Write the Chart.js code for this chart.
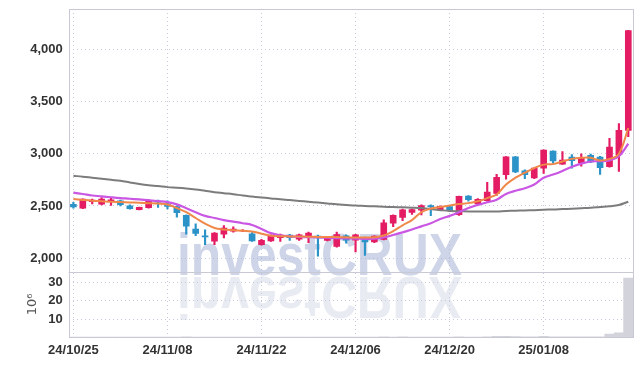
<!DOCTYPE html>
<html>
<head>
<meta charset="utf-8">
<script src="https://cdn.jsdelivr.net/npm/chart.js@4.4.1/dist/chart.umd.min.js"></script>
<style>
  html, body { margin: 0; padding: 0; background: #fff; }
</style>
</head>
<body>
<canvas id="chart" width="642" height="366"></canvas>
<script>
// trading days, 24/10/25 .. 25/01/21
const dates = [
  '24/10/25', '24/10/28', '24/10/29', '24/10/30', '24/10/31', '24/11/01', '24/11/04', '24/11/05', '24/11/06', '24/11/07',
  '24/11/08', '24/11/11', '24/11/12', '24/11/13', '24/11/14', '24/11/15', '24/11/18', '24/11/19', '24/11/20', '24/11/21',
  '24/11/22', '24/11/25', '24/11/26', '24/11/27', '24/11/28', '24/11/29', '24/12/02', '24/12/03', '24/12/04', '24/12/05',
  '24/12/06', '24/12/09', '24/12/10', '24/12/11', '24/12/12', '24/12/13', '24/12/16', '24/12/17', '24/12/18', '24/12/19',
  '24/12/20', '24/12/23', '24/12/24', '24/12/26', '24/12/27', '24/12/30', '25/01/02', '25/01/03', '25/01/06', '25/01/07',
  '25/01/08', '25/01/09', '25/01/10', '25/01/13', '25/01/14', '25/01/15', '25/01/16', '25/01/17', '25/01/20', '25/01/21',
]

const opens = [
  2515, 2478, 2540, 2518, 2545, 2548, 2500, 2465, 2484, 2545,
  2520, 2493, 2410, 2280, 2215, 2164, 2231, 2258, 2262, 2233,
  2130, 2165, 2196, 2222, 2182, 2212, 2212, 2170, 2113, 2215,
  2174, 2180, 2155, 2180, 2336, 2390, 2437, 2460, 2503, 2460,
  2495, 2417, 2595, 2520, 2550, 2621, 2798, 2969, 2835, 2767,
  2862, 3024, 2900, 2968, 2910, 2985, 2967, 2875, 2990, 3221,
]
const highs = [
  2535, 2568, 2565, 2580, 2580, 2555, 2510, 2490, 2555, 2555,
  2548, 2500, 2415, 2329, 2272, 2245, 2312, 2300, 2275, 2245,
  2180, 2225, 2230, 2228, 2230, 2250, 2222, 2200, 2250, 2225,
  2228, 2202, 2215, 2367, 2415, 2470, 2470, 2510, 2510, 2500,
  2500, 2595, 2600, 2570, 2725, 2802, 2972, 2972, 2845, 2865,
  3036, 3028, 3020, 2992, 2998, 2995, 2975, 3147, 3287, 4180,
]
const lows = [
  2480, 2475, 2520, 2510, 2505, 2500, 2470, 2462, 2478, 2485,
  2472, 2392, 2230, 2217, 2130, 2130, 2195, 2250, 2255, 2160,
  2125, 2160, 2160, 2170, 2170, 2148, 2021, 2165, 2105, 2145,
  2060, 2027, 2150, 2175, 2303, 2360, 2418, 2415, 2408, 2455,
  2450, 2410, 2545, 2505, 2545, 2600, 2757, 2818, 2760, 2760,
  2811, 2909, 2898, 2862, 2880, 2915, 2802, 2870, 2830, 3163,
]
const closes = [
  2490, 2565, 2555, 2565, 2558, 2512, 2475, 2488, 2548, 2535,
  2495, 2436, 2307, 2237, 2205, 2240, 2288, 2280, 2265, 2165,
  2172, 2217, 2222, 2197, 2224, 2240, 2195, 2195, 2227, 2172,
  2224, 2155, 2211, 2338, 2411, 2462, 2465, 2503, 2490, 2497,
  2455, 2592, 2560, 2564, 2633, 2773, 2969, 2825, 2800, 2862,
  3033, 2931, 2938, 2932, 2960, 2922, 2865, 3062, 3224, 4176,
]

// volume, millions of shares
const volumes = [
  0.15, 0.12, 0.1, 0.12, 0.1, 0.1, 0.1, 0.08, 0.12, 0.1,
  0.1, 0.12, 0.2, 0.15, 0.15, 0.12, 0.12, 0.1, 0.08, 0.12,
  0.1, 0.1, 0.1, 0.08, 0.1, 0.12, 0.15, 0.08, 0.15, 0.1,
  0.12, 0.15, 0.1, 0.2, 0.18, 0.2, 0.15, 0.15, 0.15, 0.12,
  0.12, 0.22, 0.15, 0.12, 0.2, 0.5, 0.55, 0.45, 0.2, 0.2,
  0.5, 0.25, 0.2, 0.2, 0.2, 0.2, 0.25, 1.8, 2.5, 32.5,
]

// moving averages as drawn
const ma5 = [
  2567, 2558, 2550, 2545, 2540, 2537, 2534, 2531, 2527, 2523,
  2514, 2480, 2440, 2385, 2330, 2290, 2275, 2268, 2262, 2255,
  2235, 2215, 2210, 2209, 2208, 2206, 2204, 2203, 2202, 2200,
  2199, 2198, 2200, 2217, 2260, 2315, 2365, 2440, 2475, 2490,
  2505, 2518, 2527, 2545, 2575, 2610, 2705, 2770, 2818, 2862,
  2895, 2900, 2925, 2950, 2960, 2960, 2935, 2950, 3000, 3245,
]
const ma20 = [
  2627, 2614, 2600, 2592, 2583, 2575, 2569, 2562, 2555, 2547,
  2537, 2515, 2478, 2440, 2405, 2385, 2365, 2350, 2335, 2318,
  2280, 2240, 2220, 2210, 2204, 2202, 2200, 2196, 2193, 2190,
  2188, 2186, 2188, 2200, 2222, 2247, 2275, 2305, 2335, 2375,
  2405, 2440, 2480, 2510, 2535, 2560, 2615, 2645, 2670, 2705,
  2770, 2800, 2835, 2875, 2905, 2925, 2928, 2935, 2975, 3095,
]
const ma60 = [
  2788, 2780, 2770, 2760, 2750, 2740, 2725, 2710, 2698, 2690,
  2680, 2675, 2668, 2658, 2645, 2632, 2622, 2612, 2600, 2590,
  2580, 2572, 2565, 2556, 2548, 2540, 2532, 2524, 2516, 2510,
  2504, 2500, 2496, 2492, 2489, 2487, 2484, 2480, 2470, 2460,
  2452, 2450, 2448, 2447, 2447, 2448, 2452, 2455, 2457, 2460,
  2464, 2466, 2470, 2474, 2478, 2482, 2490, 2498, 2510, 2540,
]

const priceTicks = [2000, 2500, 3000, 3500, 4000]
const volumeTicks = [10, 20, 30]

const UP = '#e31c63'
const DOWN = '#2b93c8'
const GRID = '#c8cade'
const LABEL_FONT = { family: "'Liberation Sans', Arial, sans-serif", size: 13, weight: 'bold' }

const candleColors = closes.map((c, i) => c >= opens[i] ? UP : DOWN)
const bodies = opens.map((o, i) => [o, closes[i]])
const wicks = lows.map((l, i) => [l, highs[i]])

// fixed tick lists, no padding for edge labels
const setTicks = list => scale => {
  scale.ticks = list.map(v => ({ value: v }))
}
const fixWidth = scale => {
  scale.width = 68.7
  scale.paddingTop = 0
  scale.paddingBottom = 0
}

const framePlugin = {
  id: 'frame',
  beforeDatasetsDraw(chart) {
    const { ctx } = chart
    const text = 'investCRUX'
    ctx.save()
    ctx.font = "bold 60px 'Liberation Sans', Arial, sans-serif"
    const w = ctx.measureText(text).width
    const sx = 285 / w
    // reflection
    ctx.save()
    ctx.translate(177, 277)
    ctx.scale(sx, -1)
    ctx.fillStyle = 'rgba(200, 204, 226, 0.4)'
    ctx.fillText(text, 0, 0)
    ctx.restore()
    ctx.save()
    ctx.translate(177, 275)
    ctx.scale(sx, 1)
    ctx.fillStyle = 'rgba(168, 178, 214, 0.55)'
    ctx.fillText(text, 0, 0)
    ctx.restore()
    ctx.restore()
  },
  afterDraw(chart) {
    const { ctx, chartArea: a, scales } = chart
    ctx.save()
    ctx.strokeStyle = '#c9c9d6'
    ctx.lineWidth = 1
    ctx.strokeRect(Math.round(a.left) + 0.5, Math.round(a.top) + 0.5, Math.round(a.width), Math.round(a.height))
    const ys = Math.round(scales.yVol.top) + 0.5
    ctx.beginPath()
    ctx.moveTo(a.left, ys)
    ctx.lineTo(a.right, ys)
    ctx.stroke()
    ctx.restore()
  },
}

new Chart(document.getElementById('chart'), {
  type: 'bar',
  data: {
    labels: dates,
    datasets: [
      {
        type: 'line', label: 'MA5', data: ma5, yAxisID: 'y', order: 0,
        borderColor: '#f0884a', borderWidth: 2, pointRadius: 0, tension: 0.4,
      },
      {
        type: 'line', label: 'MA20', data: ma20, yAxisID: 'y', order: 0,
        borderColor: '#c957e3', borderWidth: 2.2, pointRadius: 0, tension: 0.4,
      },
      {
        type: 'line', label: 'MA60', data: ma60, yAxisID: 'y', order: 0,
        borderColor: '#7c7c7c', borderWidth: 2, pointRadius: 0, tension: 0.4,
      },
      {
        label: 'body', data: bodies, yAxisID: 'y', order: 1,
        backgroundColor: candleColors, barThickness: 6, grouped: false,
      },
      {
        label: 'wick', data: wicks, yAxisID: 'y', order: 2,
        backgroundColor: candleColors, barThickness: 1.5, grouped: false,
      },
      {
        label: 'volume', data: volumes, yAxisID: 'yVol', order: 3,
        backgroundColor: '#d3d3dc', barPercentage: 1, categoryPercentage: 1, grouped: false,
      },
    ],
  },
  options: {
    responsive: false,
    animation: false,
    devicePixelRatio: 1,
    layout: { padding: { top: 9, right: 9, left: 0, bottom: 0 } },
    plugins: { legend: { display: false }, tooltip: { enabled: false } },
    scales: {
      x: {
        type: 'category',
        offset: true,
        afterFit: s => { s.height = 28.7 },
        afterBuildTicks: s => { s.ticks = s.ticks.filter(t => t.value % 10 === 0) },
        grid: { color: GRID, offset: false, drawTicks: false },
        border: { display: false, dash: [1, 3] },
        ticks: {
          autoSkip: false, maxRotation: 0, padding: 5,
          color: '#333', font: LABEL_FONT,
          callback: v => dates[v],
        },
      },
      yVol: {
        type: 'linear',
        position: 'left',
        stack: 'pane',
        stackWeight: 1,
        min: 0,
        max: 36,
        afterFit: fixWidth,
        afterBuildTicks: setTicks(volumeTicks),
        grid: { color: GRID, drawTicks: false },
        border: { display: false, dash: [1, 3] },
        ticks: { autoSkip: false, padding: 6, color: '#333', font: LABEL_FONT },
        title: {
          display: true, text: '10\u2076', color: '#555',
          font: { family: "'DejaVu Sans', sans-serif", size: 13 },
          padding: { top: 25, bottom: 0 },
        },
      },
      y: {
        type: 'linear',
        position: 'left',
        stack: 'pane',
        stackWeight: 4,
        min: 1872,
        max: 4383,
        afterFit: fixWidth,
        afterBuildTicks: setTicks(priceTicks),
        grid: { color: GRID, drawTicks: false },
        border: { display: false, dash: [1, 3] },
        ticks: { autoSkip: false, padding: 6, color: '#333', font: LABEL_FONT },
      },
    },
  },
  plugins: [framePlugin],
})
</script>
</body>
</html>
